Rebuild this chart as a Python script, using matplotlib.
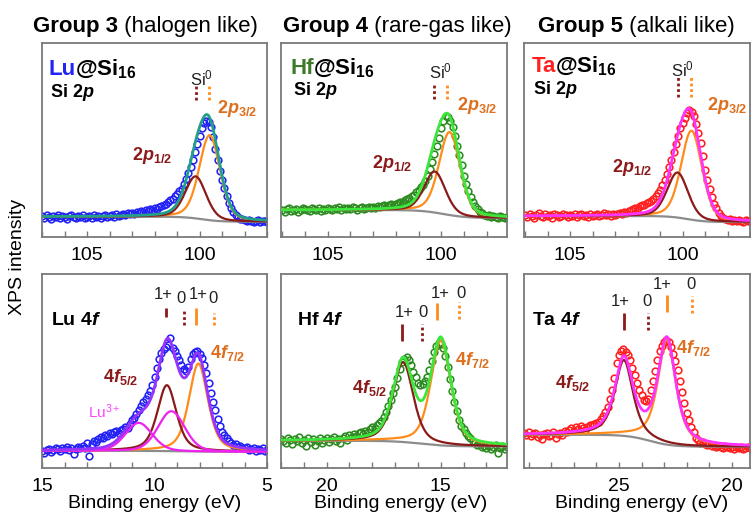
import matplotlib

matplotlib.use("Agg")

import matplotlib.pyplot as plt
import numpy as np
from matplotlib.ticker import MultipleLocator

plt.rcParams["font.family"] = ["Liberation Sans", "DejaVu Sans"]
plt.rcParams["mathtext.fontset"] = "custom"
plt.rcParams["mathtext.rm"] = "Liberation Sans"
plt.rcParams["mathtext.bf"] = "Liberation Sans:bold"
plt.rcParams["mathtext.it"] = "Liberation Sans:bold:italic"

DARKRED = "#8B1A1A"
ORANGE = "#FF8C1A"
ORANGE_TXT = "#DD6F1E"
GREY = "#8C8C8C"
SPINE = "#7A7A7A"

# measured spectra: 0.1 eV steps, starting at the high binding-energy end
lu_si_start = 107.0
lu_si_int = [
    0.01, -0.01, 0.02, 0.00, -0.02, 0.01, 0.00, 0.02, -0.01, 0.01,
    0.00, -0.02, 0.01, 0.02, 0.00, -0.01, 0.01, 0.00, 0.02, -0.01,
    0.00, 0.01, -0.01, 0.02, 0.00, 0.01, -0.01, 0.01, 0.02, 0.00,
    0.01, 0.02, 0.00, 0.03, 0.01, 0.02, 0.03, 0.02, 0.04, 0.03,
    0.04, 0.03, 0.05, 0.04, 0.06, 0.05, 0.07, 0.06, 0.08, 0.07,
    0.09, 0.08, 0.10, 0.11, 0.12, 0.13, 0.15, 0.17, 0.18, 0.21,
    0.23, 0.26, 0.28, 0.33, 0.38, 0.44, 0.50, 0.57, 0.65, 0.73,
    0.81, 0.89, 0.94, 0.96, 0.95, 0.90, 0.80, 0.68, 0.57, 0.46,
    0.37, 0.29, 0.21, 0.14, 0.09, 0.05, 0.02, 0.00, -0.02, -0.02,
    -0.03, -0.04, -0.03, -0.04, -0.05, -0.04, -0.03, -0.05, -0.04, -0.04,
    -0.05,
]
hf_si_start = 107.0
hf_si_int = [
    0.00, -0.02, 0.01, 0.02, -0.01, 0.00, 0.01, -0.02, 0.00, 0.02,
    0.01, 0.00, -0.01, 0.02, 0.01, 0.00, 0.02, -0.01, 0.01, 0.00,
    0.02, 0.01, 0.00, 0.02, 0.01, 0.03, 0.00, 0.02, 0.01, 0.02,
    0.01, 0.03, 0.02, 0.00, 0.02, 0.03, 0.01, 0.02, 0.03, 0.02,
    0.03, 0.02, 0.04, 0.03, 0.04, 0.05, 0.04, 0.05, 0.06, 0.05,
    0.06, 0.07, 0.08, 0.08, 0.10, 0.11, 0.12, 0.14, 0.15, 0.18,
    0.20, 0.23, 0.25, 0.29, 0.34, 0.41, 0.48, 0.56, 0.64, 0.72,
    0.82, 0.89, 0.94, 0.93, 0.89, 0.83, 0.74, 0.64, 0.55, 0.45,
    0.34, 0.26, 0.19, 0.13, 0.08, 0.04, 0.01, -0.02, -0.03, -0.05,
    -0.06, -0.05, -0.07, -0.06, -0.07, -0.08, -0.06, -0.07, -0.08, -0.07,
    -0.07,
]
ta_si_start = 107.0
ta_si_int = [
    0.01, -0.01, 0.02, 0.00, -0.02, 0.01, 0.03, 0.00, -0.01, 0.02,
    0.00, 0.01, -0.02, 0.02, 0.01, -0.01, 0.00, 0.02, 0.01, -0.01,
    0.01, 0.00, 0.02, -0.01, 0.01, 0.02, 0.00, 0.01, -0.01, 0.02,
    0.00, 0.01, 0.02, 0.00, 0.01, 0.03, 0.01, 0.02, 0.00, 0.02,
    0.01, 0.02, 0.03, 0.02, 0.04, 0.03, 0.05, 0.06, 0.07, 0.08,
    0.08, 0.10, 0.11, 0.11, 0.13, 0.14, 0.15, 0.17, 0.20, 0.23,
    0.26, 0.31, 0.36, 0.42, 0.49, 0.56, 0.64, 0.72, 0.80, 0.88,
    0.93, 0.98, 1.03, 1.06, 1.04, 1.00, 0.92, 0.83, 0.73, 0.60,
    0.46, 0.36, 0.27, 0.19, 0.12, 0.08, 0.03, 0.00, -0.02, -0.03,
    -0.04, -0.03, -0.05, -0.04, -0.05, -0.04, -0.05, -0.06, -0.04, -0.05,
    -0.05,
]
lu_4f_start = 15.0
lu_4f_int = [
    0.00, -0.02, 0.01, 0.02, -0.01, 0.01, 0.03, 0.02, 0.00, 0.03,
    0.02, 0.04, 0.01, 0.03, -0.03, 0.02, 0.04, 0.03, 0.05, 0.03,
    0.08, -0.05, 0.07, 0.10, 0.09, 0.12, 0.14, 0.13, 0.16, 0.15,
    0.18, 0.17, 0.19, 0.20, 0.18, 0.21, 0.22, 0.24, 0.23, 0.27,
    0.31, 0.33, 0.37, 0.41, 0.45, 0.49, 0.52, 0.56, 0.60, 0.66,
    0.74, 0.83, 0.92, 0.98, 1.02, 1.04, 1.06, 1.13, 1.03, 1.00,
    0.95, 0.91, 0.86, 0.82, 0.80, 0.84, 0.92, 0.97, 0.99, 1.00,
    0.97, 0.93, 0.86, 0.78, 0.68, 0.58, 0.49, 0.41, 0.32, 0.25,
    0.19, 0.16, 0.13, 0.10, 0.08, 0.06, 0.07, 0.04, 0.05, 0.03,
    0.03, 0.04, 0.01, 0.02, 0.03, 0.00, 0.02, 0.01, 0.03, 0.00,
    0.01,
]
hf_4f_start = 22.0
hf_4f_int = [
    0.02, 0.00, -0.02, 0.03, 0.01, -0.03, 0.02, 0.00, 0.04, -0.02,
    0.01, -0.05, 0.03, -0.01, 0.02, -0.04, 0.00, 0.03, -0.02, 0.01,
    0.03, -0.01, 0.02, 0.04, 0.00, 0.02, -0.02, 0.03, 0.05, 0.01,
    0.06, 0.04, 0.07, 0.05, 0.08, 0.09, 0.07, 0.10, 0.09, 0.12,
    0.14, 0.13, 0.16, 0.18, 0.20, 0.24, 0.29, 0.35, 0.41, 0.48,
    0.54, 0.63, 0.72, 0.79, 0.82, 0.84, 0.81, 0.76, 0.69, 0.64,
    0.58, 0.56, 0.57, 0.60, 0.64, 0.71, 0.80, 0.89, 0.95, 0.98,
    0.97, 0.93, 0.85, 0.74, 0.62, 0.50, 0.39, 0.30, 0.21, 0.15,
    0.12, 0.08, 0.05, 0.03, 0.00, -0.02, -0.04, -0.03, -0.06, -0.05,
    -0.07, -0.05, -0.08, -0.06, -0.04, -0.12, -0.07, -0.05, -0.08, -0.06,
    -0.05,
]
ta_4f_start = 29.2
ta_4f_int = [
    0.02, 0.00, 0.03, -0.01, 0.01, 0.02, -0.02, 0.00, -0.04, 0.01,
    0.02, -0.01, 0.00, 0.03, -0.03, 0.01, 0.02, 0.00, 0.04, 0.03,
    0.05, 0.07, 0.04, 0.08, 0.06, 0.09, 0.07, 0.05, 0.08, 0.10,
    0.10, 0.11, 0.12, 0.13, 0.16, 0.19, 0.23, 0.28, 0.36, 0.45,
    0.57, 0.72, 0.80, 0.84, 0.86, 0.83, 0.80, 0.75, 0.67, 0.60,
    0.52, 0.45, 0.40, 0.35, 0.34, 0.36, 0.45, 0.54, 0.64, 0.75,
    0.84, 0.89, 0.93, 0.95, 0.93, 0.88, 0.81, 0.74, 0.65, 0.54,
    0.43, 0.32, 0.22, 0.15, 0.08, 0.03, -0.03, -0.05, -0.08, -0.07,
    -0.09, -0.10, -0.09, -0.11, -0.10, -0.12, -0.11, -0.12, -0.13, -0.11,
    -0.12, -0.13, -0.12, -0.14, -0.12, -0.13, -0.12, -0.14, -0.13, -0.12,
    -0.13,
]

# fitted peaks: centre (eV), height, fwhm (eV), lorentzian fraction
# Si 2p order: 2p3/2, 2p1/2
lu_si_pos, lu_si_amp = [99.55, 100.17], [0.85, 0.42]
hf_si_pos, hf_si_amp = [99.63, 100.28], [0.83, 0.41]
ta_si_pos, ta_si_amp = [99.60, 100.22], [0.89, 0.45]
si_fwhm, si_eta = [1.1, 1.1], [0.3, 0.3]
# 4f order: 4f7/2, 4f5/2 (Lu also has the two Lu3+ peaks)
lu_4f_pos, lu_4f_amp = [8.05, 9.45, 9.25, 10.70], [0.88, 0.66, 0.40, 0.28]
lu_4f_fwhm, lu_4f_eta = [1.0, 1.0, 1.4, 1.4], [0.5, 0.5, 0.2, 0.2]
hf_4f_pos, hf_4f_amp = [15.00, 16.65], [1.05, 0.80]
hf_4f_fwhm, hf_4f_eta = [1.05, 1.05], [0.5, 0.5]
ta_4f_pos, ta_4f_amp = [22.88, 24.78], [1.05, 0.76]
ta_4f_fwhm, ta_4f_eta = [0.95, 0.95], [0.7, 0.7]

# Shirley-like background step: drop, centre, width
lu_si_bg = [0.05, 99.9, 0.4]
hf_si_bg = [0.08, 99.9, 0.5]
ta_si_bg = [0.06, 99.8, 0.4]
lu_4f_bg = [0.01, 9.0, 0.8]
hf_4f_bg = [0.057, 15.9, 0.6]
ta_4f_bg = [0.12, 23.65, 0.5]

# reference energies marked above the peaks
lu_si_marks = [100.16, 99.57]
hf_si_marks = [100.32, 99.74]
ta_si_marks = [100.21, 99.63]
lu_4f_marks = [9.48, 8.70, 8.15, 7.36]   # 5/2: 1+, 0 ; 7/2: 1+, 0
hf_4f_marks = [16.68, 15.84, 15.15, 14.19]
ta_4f_marks = [24.78, 23.73, 22.88, 21.76]


def pvoigt(e, c, h, w, eta):
    x = (e - c) / w
    return h * (eta / (1 + 4 * x**2) + (1 - eta) * np.exp(-4 * np.log(2) * x**2))


def bg_step(e, drop, c, s):
    return -drop / (1 + np.exp((e - c) / s))


def spectrum(ax, start, intens, dot_color, pos, amp, fwhm, eta, bg,
             comp_colors, total_color, xlim, ylim):
    e = start - 0.1 * np.arange(len(intens))
    ax.plot(e, intens, "o", ms=4.8, mfc="none", mec=dot_color, mew=1.15, zorder=2)
    grid = np.linspace(xlim[0], xlim[1], 600)
    base = bg_step(grid, *bg)
    ax.plot(grid, base, color=GREY, lw=1.6, zorder=3)
    total = base.copy()
    for c, h, w, k, col in zip(pos, amp, fwhm, eta, comp_colors):
        peak = pvoigt(grid, c, h, w, k)
        total += peak
        ax.plot(grid, base + peak, color=col, lw=1.6, zorder=4)
    ax.plot(grid, total, color=total_color, lw=2.0, zorder=5)
    ax.set_xlim(xlim)
    ax.set_ylim(ylim)
    ax.xaxis.set_major_locator(MultipleLocator(5))
    ax.xaxis.set_minor_locator(MultipleLocator(1))
    ax.tick_params(axis="x", which="both", direction="in", length=4, width=1,
                   color=SPINE, labelsize=14, pad=7, top=False)
    ax.tick_params(axis="y", left=False, labelleft=False)
    for sp in ax.spines.values():
        sp.set_color(SPINE)
        sp.set_linewidth(1.3)


def marks(ax, energies, colors, styles, y0, y1):
    tr = ax.get_xaxis_transform()
    for e, col, ls, a, b in zip(energies, colors, styles, y0, y1):
        ax.plot([e, e], [a, b], color=col, ls=ls, lw=2, transform=tr,
                solid_capstyle="butt")


def label(ax, x, y, s, **kw):
    return ax.text(x, y, s, transform=ax.transAxes, va="baseline", **kw)


def cluster_label(ax, x, y, metal, color):
    t = label(ax, x, y, metal, color=color, fontsize=16, fontweight="bold")
    ax.annotate(r"@Si$_{\mathbf{16}}$", xy=(1, y), xycoords=(t, "axes fraction"),
                xytext=(-0.5, 0), textcoords="offset points",
                va="baseline", ha="left", fontsize=16, fontweight="bold")


fig = plt.figure(figsize=(7.51, 5.17), dpi=100)
W, H = 751, 517
cols = [(42, 267), (281, 507), (524, 750)]
rows = [(43, 237), (274, 468)]
axes = [[fig.add_axes([c[0] / W, 1 - r[1] / H, (c[1] - c[0]) / W, (r[1] - r[0]) / H])
         for c in cols] for r in rows]

si_cols = [ORANGE, DARKRED]
dotted = (0, (1, 1))

# --- top row: Si 2p ---
ax = axes[0][0]
spectrum(ax, lu_si_start, lu_si_int, "#2323F5", lu_si_pos, lu_si_amp, si_fwhm, si_eta,
         lu_si_bg, si_cols, "#23A08A", (107.0, 97.0), (-0.203, 1.737))
cluster_label(ax, 0.031, 0.833, "Lu", "#2323F5")
label(ax, 0.036, 0.722, r"Si 2$p$", fontsize=13, fontweight="bold")
label(ax, 0.711, 0.784, r"Si$^0$", fontsize=12, ha="center", color="#222222")
marks(ax, lu_si_marks, [DARKRED, ORANGE], [dotted, dotted], [0.706] * 2, [0.778] * 2)
label(ax, 0.778, 0.639, r"2$p_{\mathbf{3/2}}$", fontsize=13, fontweight="bold", color=ORANGE_TXT)
label(ax, 0.40, 0.397, r"2$p_{\mathbf{1/2}}$", fontsize=13, fontweight="bold", color=DARKRED)

ax = axes[0][1]
spectrum(ax, hf_si_start, hf_si_int, "#2E8B22", hf_si_pos, hf_si_amp, si_fwhm, si_eta,
         hf_si_bg, si_cols, "#3CE63C", (107.06, 97.1), (-0.27, 1.67))
cluster_label(ax, 0.04, 0.84, "Hf", "#3D7A2A")
label(ax, 0.052, 0.731, r"Si 2$p$", fontsize=13, fontweight="bold")
label(ax, 0.707, 0.818, r"Si$^0$", fontsize=12, ha="center", color="#222222")
marks(ax, hf_si_marks, [DARKRED, ORANGE], [dotted, dotted], [0.710] * 2, [0.792] * 2)
label(ax, 0.778, 0.655, r"2$p_{\mathbf{3/2}}$", fontsize=13, fontweight="bold", color=ORANGE_TXT)
label(ax, 0.403, 0.354, r"2$p_{\mathbf{1/2}}$", fontsize=13, fontweight="bold", color=DARKRED)

ax = axes[0][2]
spectrum(ax, ta_si_start, ta_si_int, "#FF2020", ta_si_pos, ta_si_amp, si_fwhm, si_eta,
         ta_si_bg, si_cols, "#FF33FF", (107.05, 97.0), (-0.21, 1.73))
cluster_label(ax, 0.034, 0.85, "Ta", "#FF2020")
label(ax, 0.04, 0.736, r"Si 2$p$", fontsize=13, fontweight="bold")
label(ax, 0.70, 0.83, r"Si$^0$", fontsize=12, ha="center", color="#222222")
marks(ax, ta_si_marks, [DARKRED, ORANGE], [dotted, dotted], [0.722] * 2, [0.825] * 2)
label(ax, 0.809, 0.655, r"2$p_{\mathbf{3/2}}$", fontsize=13, fontweight="bold", color=ORANGE_TXT)
label(ax, 0.39, 0.337, r"2$p_{\mathbf{1/2}}$", fontsize=13, fontweight="bold", color=DARKRED)

# --- bottom row: metal 4f ---
mark_cols = [DARKRED, DARKRED, ORANGE, ORANGE]
mark_ls = ["-", dotted, "-", dotted]

ax = axes[1][0]
spectrum(ax, lu_4f_start, lu_4f_int, "#2323F5", lu_4f_pos, lu_4f_amp, lu_4f_fwhm, lu_4f_eta,
         lu_4f_bg, [ORANGE, DARKRED, "#EE22EE", "#EE22EE"], "#9933FF", (15.0, 5.0), (-0.173, 1.77))
label(ax, 0.039, 0.737, r"Lu 4$f$", fontsize=14, fontweight="bold")
marks(ax, lu_4f_marks, mark_cols, mark_ls, [0.780, 0.737, 0.737, 0.737], [0.823, 0.814, 0.823, 0.80])
for x, y, s in [(0.539, 0.87, "1+"), (0.618, 0.849, "0"), (0.695, 0.87, "1+"), (0.761, 0.849, "0")]:
    label(ax, x, y, s, fontsize=12, ha="center", color="#222222")
label(ax, 0.273, 0.445, r"4$f_{\mathbf{5/2}}$", fontsize=13, fontweight="bold", color=DARKRED)
label(ax, 0.747, 0.565, r"4$f_{\mathbf{7/2}}$", fontsize=13, fontweight="bold", color=ORANGE_TXT)
label(ax, 0.205, 0.256, r"Lu$^{3+}$", fontsize=11, color="#FF44FF")

ax = axes[1][1]
spectrum(ax, hf_4f_start, hf_4f_int, "#2E8B22", hf_4f_pos, hf_4f_amp, hf_4f_fwhm, hf_4f_eta,
         hf_4f_bg, [ORANGE, DARKRED], "#3CE63C", (22.0, 12.1), (-0.273, 1.67))
label(ax, 0.07, 0.737, r"Hf 4$f$", fontsize=14, fontweight="bold")
marks(ax, hf_4f_marks, mark_cols, mark_ls, [0.656, 0.656, 0.763, 0.77], [0.742, 0.742, 0.849, 0.857])
for x, y, s in [(0.544, 0.78, "1+"), (0.63, 0.78, "0"), (0.704, 0.875, "1+"), (0.796, 0.875, "0")]:
    label(ax, x, y, s, fontsize=12, ha="center", color="#222222")
label(ax, 0.314, 0.385, r"4$f_{\mathbf{5/2}}$", fontsize=13, fontweight="bold", color=DARKRED)
label(ax, 0.769, 0.531, r"4$f_{\mathbf{7/2}}$", fontsize=13, fontweight="bold", color=ORANGE_TXT)

ax = axes[1][2]
spectrum(ax, ta_4f_start, ta_4f_int, "#FF2020", ta_4f_pos, ta_4f_amp, ta_4f_fwhm, ta_4f_eta,
         ta_4f_bg, [ORANGE, DARKRED], "#FF33FF", (29.2, 19.2), (-0.333, 1.61))
label(ax, 0.034, 0.737, r"Ta 4$f$", fontsize=14, fontweight="bold")
marks(ax, ta_4f_marks, mark_cols, mark_ls, [0.711, 0.711, 0.806, 0.80], [0.797, 0.797, 0.892, 0.885])
for x, y, s in [(0.427, 0.835, "1+"), (0.545, 0.835, "0"), (0.612, 0.921, "1+"), (0.738, 0.921, "0")]:
    label(ax, x, y, s, fontsize=12, ha="center", color="#222222")
label(ax, 0.138, 0.41, r"4$f_{\mathbf{5/2}}$", fontsize=13, fontweight="bold", color=DARKRED)
label(ax, 0.671, 0.591, r"4$f_{\mathbf{7/2}}$", fontsize=13, fontweight="bold", color=ORANGE_TXT)

for ax, dx in zip(axes[1], [0.5, 0.53, 0.52]):
    ax.set_xlabel("Binding energy (eV)", fontsize=14)
    ax.xaxis.set_label_coords(dx, -0.139)
    ax.xaxis.label.set_va("top")

# column titles
for x, group, kind in [(33, "Group 3", " (halogen like)"),
                       (283, "Group 4", " (rare-gas like)"),
                       (538, "Group 5", " (alkali like)")]:
    t = fig.text(x / W, 1 - 32.3 / H, group, fontsize=16, fontweight="bold", va="baseline")
    plt.annotate(kind, xy=(1, 1 - 32.3 / H), xycoords=(t, "figure fraction"),
                 va="baseline", ha="left", fontsize=16, annotation_clip=False)

fig.text(18 / W, 0.503, "XPS intensity", rotation=90, fontsize=14, ha="center", va="center")

fig.savefig("out.png", dpi=100)
